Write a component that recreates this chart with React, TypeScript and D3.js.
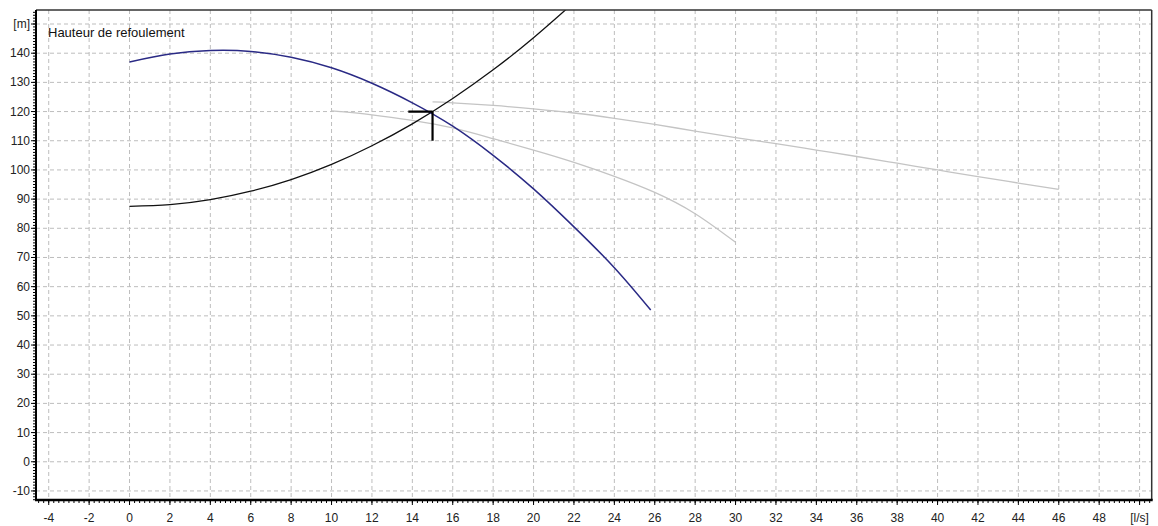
import React from "react";
import * as d3 from "d3";

const W = 1158;
const H = 526;

// Pump curve (blue) [Q l/s, H m]
const pumpQ = [0, 2, 4, 6, 8, 10, 12, 14, 16, 18, 20, 22, 24, 25.8];
const pumpH = [137, 139.7, 140.9, 140.6, 138.6, 135, 129.7, 123, 115, 105, 93.5, 80.5, 66.5, 52];

// System curve (black)
const sysQ = [0, 2, 4, 6, 8, 10, 12, 14, 16, 18, 20, 22];
const sysH = [87.5, 88.1, 89.8, 92.7, 96.7, 101.9, 108.3, 115.8, 124.5, 134.3, 145.3, 157.4];

// Gray curve 1
const g1Q = [10, 12, 14, 16, 18, 20, 22, 24, 26, 28, 30];
const g1H = [120.2, 118.9, 117, 114.4, 110.7, 106.8, 102.6, 97.8, 92.3, 85, 75.2];

// Gray curve 2
const g2Q = [15, 16, 18, 20, 22, 24, 26, 28, 30, 32, 34, 36, 38, 40, 42, 44, 46];
const g2H = [123.3, 123, 122.1, 120.9, 119.5, 117.7, 115.6, 113.3, 111.1, 109, 106.8, 104.6, 102.3, 100, 97.7, 95.5, 93.3];

// Operating point
const opQ = [15];
const opH = [120];

const xTicks = d3.range(-4, 50, 2);
const yTicks = d3.range(-10, 150, 10);
const xUnit = "[l/s]";
const yUnit = "[m]";
const title = "Hauteur de refoulement";

const L = 36, T = 10, R = 1151.7, B = 500;

export default function App() {
  const x = d3.scaleLinear().domain([-4.63, 50.6]).range([L, R]);
  const y = d3.scaleLinear().domain([-13.1, 154.8]).range([B, T]);

  const mk = (qs: number[], hs: number[]) =>
    d3
      .line<number>()
      .x((_, i) => x(qs[i]))
      .y((_, i) => y(hs[i]))
      .curve(d3.curveNatural)(qs) as string;

  const minorX = d3.range(-4.5, 50.51, 0.25);
  const minorY = d3.range(-13, 154.9, 1);
  const font = "'Liberation Sans', Arial, sans-serif";

  return (
    <svg
      width={W}
      height={H}
      style={{ position: "fixed", left: 0, top: 0, background: "#fff" }}
      fontFamily={font}
    >
      <defs>
        <clipPath id="plot">
          <rect x={L} y={T} width={R - L} height={B - T} />
        </clipPath>
      </defs>
      <rect x={0} y={0} width={W} height={H} fill="#fff" />
      {/* grid */}
      <g stroke="#bdbdbd" strokeWidth={1} strokeDasharray="4,3">
        {xTicks.map((t) => (
          <line key={"gx" + t} x1={x(t)} x2={x(t)} y1={T} y2={B} />
        ))}
        <line x1={x(50)} x2={x(50)} y1={T} y2={B} />
        {yTicks.map((t) => (
          <line key={"gy" + t} x1={L} x2={R} y1={y(t)} y2={y(t)} />
        ))}
        <line x1={L} x2={R} y1={y(150)} y2={y(150)} />
      </g>
      {/* curves */}
      <g clipPath="url(#plot)" fill="none">
        <path d={mk(g1Q, g1H)} stroke="#c4c4c4" strokeWidth={1.3} />
        <path d={mk(g2Q, g2H)} stroke="#c4c4c4" strokeWidth={1.3} />
        <path d={mk(sysQ, sysH)} stroke="#111" strokeWidth={1.3} />
        <path d={mk(pumpQ, pumpH)} stroke="#2a2a85" strokeWidth={1.5} />
        {opQ.map((q, i) => (
          <g key={"op" + i} stroke="#000" strokeWidth={2.2}>
            <line x1={x(q - 1.2)} x2={x(q)} y1={y(opH[i])} y2={y(opH[i])} />
            <line x1={x(q)} x2={x(q)} y1={y(opH[i])} y2={y(opH[i] - 10)} />
          </g>
        ))}
      </g>
      {/* frame */}
      <line x1={L} x2={R} y1={T} y2={T} stroke="#333" strokeWidth={1.5} />
      <line x1={R} x2={R} y1={T} y2={B} stroke="#333" strokeWidth={1.5} />
      {/* axes */}
      <line x1={L} x2={L} y1={T} y2={B + 1} stroke="#000" strokeWidth={2} />
      <line x1={L - 1} x2={R + 1} y1={B} y2={B} stroke="#000" strokeWidth={2.5} />
      <g stroke="#000" strokeWidth={1}>
        {minorX.map((t) => (
          <line key={"mx" + t} x1={x(t)} x2={x(t)} y1={B} y2={B + 3} />
        ))}
        {[...xTicks, 50].map((t) => (
          <line key={"tx" + t} x1={x(t)} x2={x(t)} y1={B} y2={B + 5} />
        ))}
        {minorY.map((t) => (
          <line key={"my" + t} x1={L - 3} x2={L} y1={y(t)} y2={y(t)} />
        ))}
        {[...yTicks, 150].map((t) => (
          <line key={"ty" + t} x1={L - 5} x2={L} y1={y(t)} y2={y(t)} />
        ))}
      </g>
      <g fontSize={12} fill="#222">
        {xTicks.map((t) => (
          <text key={"lx" + t} x={x(t)} y={522} textAnchor="middle">
            {t}
          </text>
        ))}
        <text x={x(50)} y={522} textAnchor="middle">
          {xUnit}
        </text>
        {yTicks.map((t) => (
          <text key={"ly" + t} x={L - 6} y={y(t) + 4} textAnchor="end">
            {t}
          </text>
        ))}
        <text x={L - 6} y={y(150) + 4} textAnchor="end">
          {yUnit}
        </text>
        <text x={48} y={37} fontSize={13} fill="#111">
          {title}
        </text>
      </g>
    </svg>
  );
}
